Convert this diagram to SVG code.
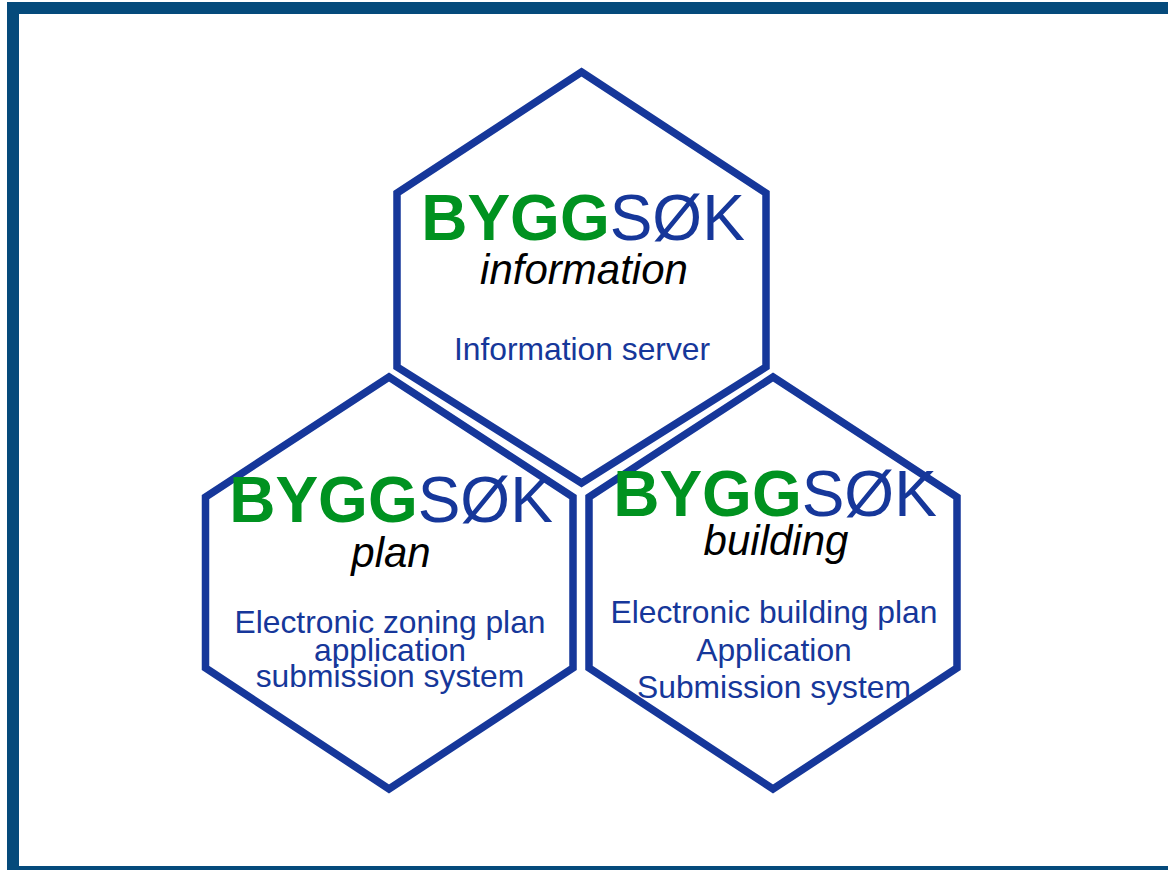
<svg xmlns="http://www.w3.org/2000/svg" width="1168" height="870" viewBox="0 0 1168 870">
<style>
.frame{fill:none;stroke:#054a7b;stroke-width:12}
.hex{fill:none;stroke:#16379a;stroke-width:7.5;stroke-linejoin:miter}
.logo{font-family:"Liberation Sans",Arial,sans-serif;font-size:64px}
.g{fill:#009220;font-weight:bold}
.b{fill:#16379a}
.sub{font-family:"Liberation Sans",Arial,sans-serif;font-style:italic;font-size:42px;fill:#000}
.desc{font-family:"Liberation Sans",Arial,sans-serif;font-size:31.8px;fill:#16379a}
</style>
<rect width="1168" height="870" fill="#fff"/>
<rect class="frame" x="13" y="8" width="1200" height="864"/>
<g id="node-information">
<polygon class="hex" points="581.5,72 766,193 766,367 581.5,483 397,367 397,193"/>
<text class="logo" x="583" y="240" text-anchor="middle"><tspan class="g">BYGG</tspan><tspan class="b">SØK</tspan></text>
<text class="sub" x="584" y="284" text-anchor="middle">information</text>
<text class="desc" x="582" y="360" text-anchor="middle">Information server</text>
</g>
<g id="node-plan">
<polygon class="hex" points="389,377 573,497 573,668 389,789 205.5,668 205.5,497"/>
<text class="logo" x="391" y="522" text-anchor="middle"><tspan class="g">BYGG</tspan><tspan class="b">SØK</tspan></text>
<text class="sub" x="391" y="567" text-anchor="middle">plan</text>
<text class="desc" x="390" y="633" text-anchor="middle">Electronic zoning plan</text>
<text class="desc" x="390" y="661" text-anchor="middle">application</text>
<text class="desc" x="390" y="687" text-anchor="middle">submission system</text>
</g>
<g id="node-building">
<polygon class="hex" points="773,377 957,497 957,668 773,789 589,668 589,497"/>
<text class="logo" x="775" y="516" text-anchor="middle"><tspan class="g">BYGG</tspan><tspan class="b">SØK</tspan></text>
<text class="sub" x="776" y="555" text-anchor="middle">building</text>
<text class="desc" x="774" y="623" text-anchor="middle">Electronic building plan</text>
<text class="desc" x="774" y="661" text-anchor="middle">Application</text>
<text class="desc" x="774" y="698" text-anchor="middle">Submission system</text>
</g>
<g id="connectors"/>
</svg>
